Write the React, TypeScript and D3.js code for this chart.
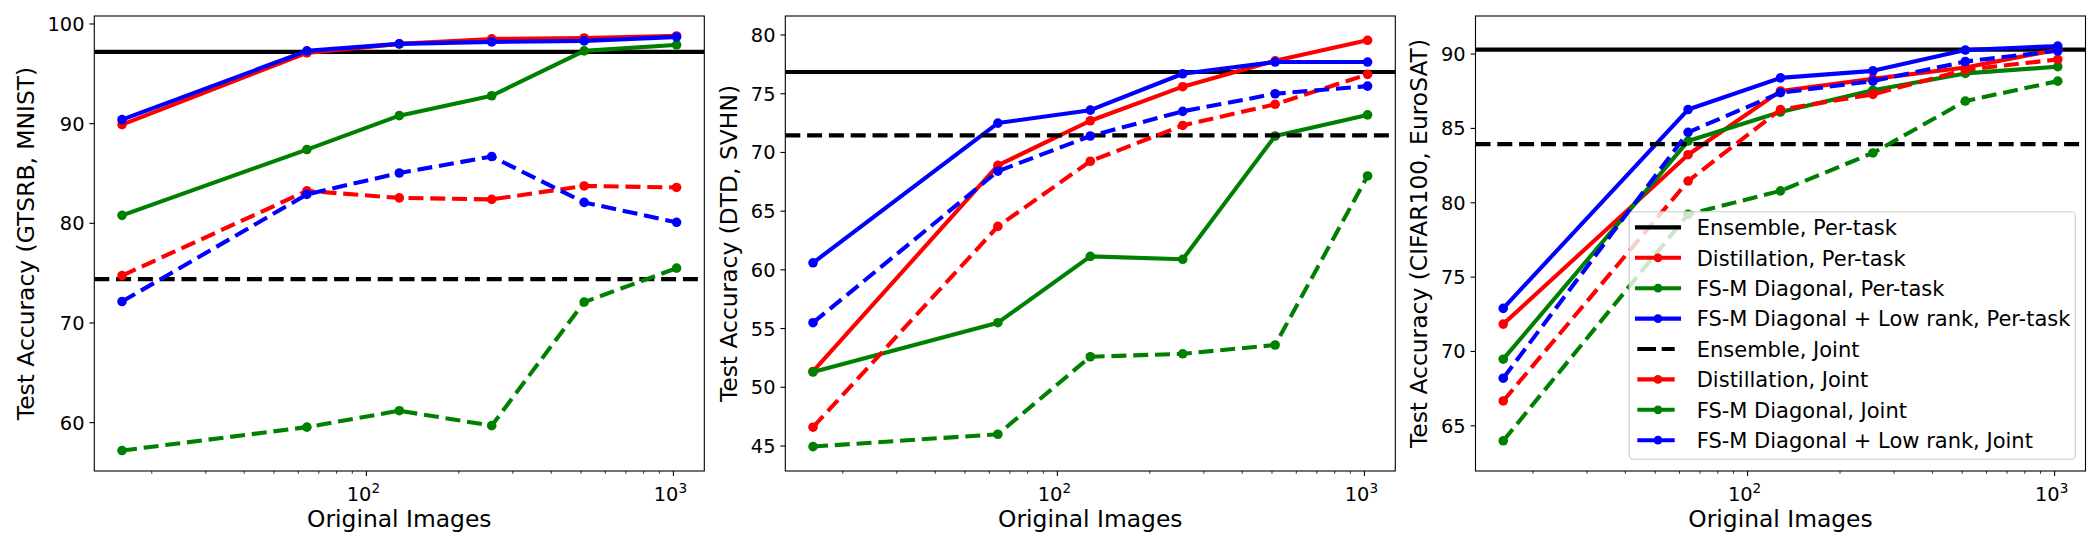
import React from "react";
import * as d3 from "d3";

// number of original images per task (x axis, log scale)
const imageCounts = [16, 64, 128, 256, 512, 1024];

const yLabels = [
  "Test Accuracy (GTSRB, MNIST)",
  "Test Accuracy (DTD, SVHN)",
  "Test Accuracy (CIFAR100, EuroSAT)",
];
const yDomains = [
  [55.15, 100.8],
  [42.87, 81.62],
  [61.96, 92.56],
];
const yTicks = [
  [60, 70, 80, 90, 100],
  [45, 50, 55, 60, 65, 70, 75, 80],
  [65, 70, 75, 80, 85, 90],
];

// horizontal reference lines, one per panel
const ensemblePerTask = [97.2, 76.85, 90.3];
const ensembleJoint = [74.4, 71.45, 83.94];

// per panel: values at imageCounts
const distillationPerTask = [
  [89.9, 97.1, 98.0, 98.5, 98.6, 98.8],
  [51.35, 68.9, 72.7, 75.6, 77.8, 79.55],
  [71.84, 83.23, 87.52, 88.33, 89.1, 90.3],
];
const diagonalPerTask = [
  [80.8, 87.4, 90.8, 92.8, 97.3, 97.9],
  [51.3, 55.5, 61.15, 60.9, 71.4, 73.2],
  [69.48, 84.15, 86.1, 87.57, 88.7, 89.15],
];
const lowRankPerTask = [
  [90.4, 97.3, 98.0, 98.2, 98.3, 98.7],
  [60.6, 72.5, 73.6, 76.7, 77.7, 77.7],
  [72.9, 86.27, 88.4, 88.87, 90.27, 90.54],
];
const distillationJoint = [
  [74.75, 83.25, 82.55, 82.4, 83.75, 83.6],
  [46.6, 63.7, 69.25, 72.3, 74.1, 76.65],
  [66.67, 81.46, 86.27, 87.29, 88.94, 89.64],
];
const diagonalJoint = [
  [57.2, 59.55, 61.2, 59.7, 72.1, 75.5],
  [44.95, 46.0, 52.6, 52.85, 53.6, 68.0],
  [63.99, 79.22, 80.8, 83.35, 86.84, 88.18],
];
const lowRankJoint = [
  [72.15, 82.9, 85.05, 86.7, 82.1, 80.1],
  [55.5, 68.4, 71.4, 73.5, 75.0, 75.65],
  [68.2, 84.74, 87.4, 88.18, 89.5, 90.22],
];

const legendLabels = [
  "Ensemble, Per-task",
  "Distillation, Per-task",
  "FS-M Diagonal, Per-task",
  "FS-M Diagonal + Low rank, Per-task",
  "Ensemble, Joint",
  "Distillation, Joint",
  "FS-M Diagonal, Joint",
  "FS-M Diagonal + Low rank, Joint",
];

const series = [
  { values: distillationPerTask, color: "#ff0000", dashed: false },
  { values: diagonalPerTask, color: "#008000", dashed: false },
  { values: lowRankPerTask, color: "#0000ff", dashed: false },
  { values: distillationJoint, color: "#ff0000", dashed: true },
  { values: diagonalJoint, color: "#008000", dashed: true },
  { values: lowRankJoint, color: "#0000ff", dashed: true },
];

const width = 2100;
const height = 550;
const panelLefts = [94.3, 785.3, 1475.5];
const panelWidth = 610;
const top = 16;
const bottom = 471;
const lw = 4.1;
const dash = "15,6.8";
const markerR = 4.8;
const font = "DejaVu Sans, sans-serif";

const Panel = ({ index }) => {
  const left = panelLefts[index];
  const right = left + panelWidth;

  const logMin = Math.log10(d3.min(imageCounts));
  const logMax = Math.log10(d3.max(imageCounts));
  const pad = (logMax - logMin) * 0.05;
  const x = d3.scaleLog()
    .domain([10 ** (logMin - pad), 10 ** (logMax + pad)])
    .range([left, right]);
  const y = d3.scaleLinear().domain(yDomains[index]).range([bottom, top]);

  const line = d3.line().x((d) => x(d[0])).y((d) => y(d[1]));
  const [dMin, dMax] = x.domain();
  const minorTicks = [];
  for (let decade = 1; decade <= 1000; decade *= 10) {
    for (let k = 2; k < 10; k++) {
      const v = k * decade;
      if (v >= dMin && v <= dMax) minorTicks.push(v);
    }
  }
  const majorTicks = [100, 1000].filter((v) => v >= dMin && v <= dMax);
  const clipId = `clip-${index}`;
  const labelOffset = index === 0 ? 60.3 : 48.5;

  return (
    <g>
      <defs>
        <clipPath id={clipId}>
          <rect x={left} y={top} width={panelWidth} height={bottom - top} />
        </clipPath>
      </defs>
      <g clipPath={`url(#${clipId})`}>
        <line x1={left} x2={right} y1={y(ensemblePerTask[index])} y2={y(ensemblePerTask[index])}
          stroke="#000" strokeWidth={lw} />
        {series.slice(0, 3).map((s, i) => (
          <SeriesLine key={`p${i}`} s={s} index={index} x={x} y={y} line={line} />
        ))}
        <line x1={left} x2={right} y1={y(ensembleJoint[index])} y2={y(ensembleJoint[index])}
          stroke="#000" strokeWidth={lw} strokeDasharray={dash} />
        {series.slice(3).map((s, i) => (
          <SeriesLine key={`j${i}`} s={s} index={index} x={x} y={y} line={line} />
        ))}
      </g>
      <rect x={left} y={top} width={panelWidth} height={bottom - top} fill="none" stroke="#000" strokeWidth={1.1} />
      {minorTicks.map((v) => (
        <line key={`m${v}`} x1={x(v)} x2={x(v)} y1={bottom} y2={bottom + 2.8} stroke="#000" strokeWidth={0.8} />
      ))}
      {majorTicks.map((v) => (
        <g key={`M${v}`}>
          <line x1={x(v)} x2={x(v)} y1={bottom} y2={bottom + 4.9} stroke="#000" strokeWidth={1.1} />
          <text x={x(v) - 3} y={500.7} fontSize={19.4} fontFamily={font} textAnchor="middle">
            10
            <tspan fontSize={13.6} dy={-8}>{Math.round(Math.log10(v))}</tspan>
          </text>
        </g>
      ))}
      {yTicks[index].map((v) => (
        <g key={`y${v}`}>
          <line x1={left - 4.9} x2={left} y1={y(v)} y2={y(v)} stroke="#000" strokeWidth={1.1} />
          <text x={left - 9.8} y={y(v) + 7} fontSize={19.4} fontFamily={font} textAnchor="end">{v}</text>
        </g>
      ))}
      <text x={(left + right) / 2} y={527.3} fontSize={23.4} fontFamily={font} textAnchor="middle">
        Original Images
      </text>
      <text transform={`translate(${left - labelOffset}, ${(top + bottom) / 2}) rotate(-90)`}
        fontSize={23.4} fontFamily={font} textAnchor="middle">
        {yLabels[index]}
      </text>
    </g>
  );
};

const SeriesLine = ({ s, index, x, y, line }) => {
  const pts = imageCounts.map((c, i) => [c, s.values[index][i]]);
  return (
    <g>
      <path d={line(pts)} fill="none" stroke={s.color} strokeWidth={lw}
        strokeDasharray={s.dashed ? dash : undefined} strokeLinejoin="round" strokeLinecap={s.dashed ? "butt" : "square"} />
      {pts.map((p, i) => (
        <circle key={i} cx={x(p[0])} cy={y(p[1])} r={markerR} fill={s.color} />
      ))}
    </g>
  );
};

const Legend = () => {
  const boxX = 1629.3;
  const boxY = 211.7;
  const rowY = (i) => 227.4 + i * 30.4;
  const colors = ["#000", "#ff0000", "#008000", "#0000ff"];
  return (
    <g>
      <rect x={boxX} y={boxY} width={446} height={247.6} rx={4} fill="#fff" fillOpacity={0.8} stroke="#cccccc" strokeWidth={1.1} />
      {legendLabels.map((label, i) => {
        const color = colors[i % 4];
        const dashed = i >= 4;
        const cy = rowY(i);
        return (
          <g key={label}>
            {dashed ? (
              <line x1={1637.3} x2={1675} y1={cy} y2={cy} stroke={color} strokeWidth={lw} strokeDasharray="18.7,5.7,13,60" />
            ) : (
              <line x1={1637} x2={1679} y1={cy} y2={cy} stroke={color} strokeWidth={lw} strokeLinecap="square" />
            )}
            {i % 4 !== 0 && <circle cx={1658} cy={cy} r={4.4} fill={color} />}
            <text x={1696.7} y={cy + 7.7} fontSize={21} fontFamily={font}>{label}</text>
          </g>
        );
      })}
    </g>
  );
};

export default function App() {
  return (
    <svg width={width} height={height} style={{ position: "absolute", left: 0, top: 0, background: "#fff" }}>
      <rect width={width} height={height} fill="#fff" />
      {[0, 1, 2].map((i) => <Panel key={i} index={i} />)}
      <Legend />
    </svg>
  );
}
